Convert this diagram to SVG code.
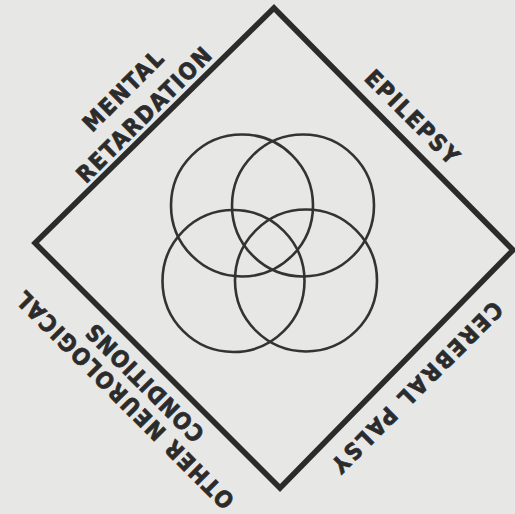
<svg xmlns="http://www.w3.org/2000/svg" width="515" height="514" viewBox="0 0 515 514">
<style>
.bg{fill:#e7e7e5}
.edge{fill:none;stroke:#2b2b2b;stroke-width:5.5;stroke-linejoin:miter}
.ring{fill:none;stroke:#333;stroke-width:2.6}
.lbl{font-family:"DejaVu Sans Condensed","DejaVu Sans","Liberation Sans",sans-serif;font-weight:bold;font-size:23px;fill:#2b2b2b;stroke:#2b2b2b;stroke-width:0.7;text-anchor:middle}
</style>
<rect class="bg" x="0" y="0" width="515" height="514"/>
<g id="connectors">
<polygon id="diamond" class="edge" points="274,8 513,250 280,488 35,243"/>
</g>
<g id="circles">
<circle id="c1" class="ring" cx="242" cy="205.5" r="71"/>
<circle id="c2" class="ring" cx="303" cy="205.5" r="71"/>
<circle id="c3" class="ring" cx="233.5" cy="281" r="71"/>
<circle id="c4" class="ring" cx="306" cy="280.5" r="71"/>
</g>
<g id="mental-retardation">
<text class="lbl" transform="translate(123,91) rotate(-45)" y="8" textLength="103" lengthAdjust="spacing">MENTAL</text>
<text class="lbl" transform="translate(144,115) rotate(-45)" y="8" textLength="180" lengthAdjust="spacing">RETARDATION</text>
</g>
<g id="epilepsy">
<text class="lbl" transform="translate(412,117) rotate(45)" y="8" textLength="122" lengthAdjust="spacing">EPILEPSY</text>
</g>
<g id="cerebral-palsy">
<text class="lbl" transform="translate(417,387) rotate(135)" y="8" textLength="231" lengthAdjust="spacing">CEREBRAL PALSY</text>
</g>
<g id="other-neurological-conditions">
<text class="lbl" transform="translate(125,400) rotate(-135)" y="8" textLength="297" lengthAdjust="spacing">OTHER NEUROLOGICAL</text>
<text class="lbl" transform="translate(145,383) rotate(-135)" y="8" textLength="156" lengthAdjust="spacing">CONDITIONS</text>
</g>
</svg>
